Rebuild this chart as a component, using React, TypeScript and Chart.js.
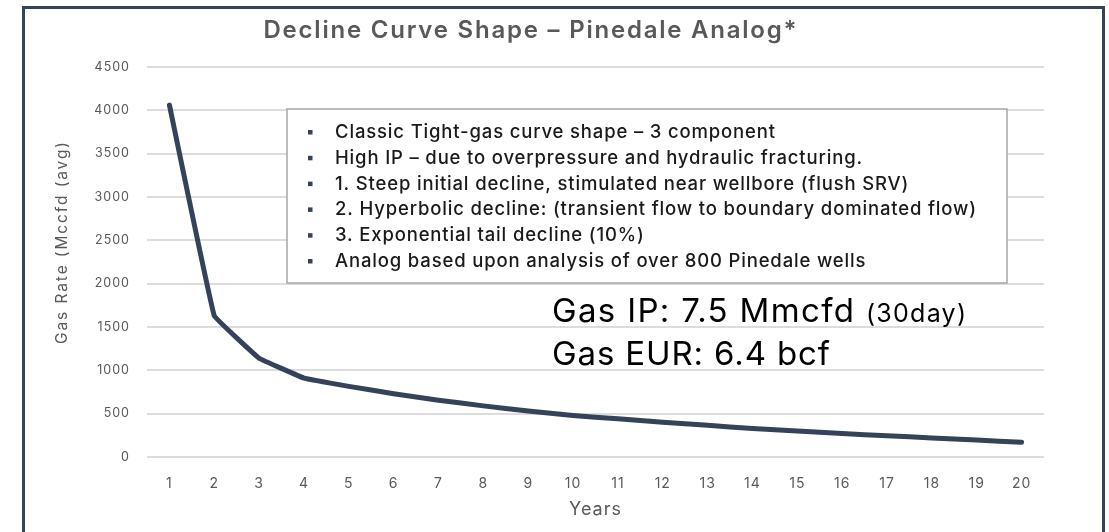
import React, { useEffect, useRef } from "react";
import { Chart, registerables } from "chart.js";

Chart.register(...registerables);

const YEARS = ["1", "2", "3", "4", "5", "6", "7", "8", "9", "10", "11", "12", "13", "14", "15", "16", "17", "18", "19", "20"];
const GAS_RATE = [4060, 1630, 1140, 910, 815, 730, 655, 590, 530, 480, 440, 400, 365, 330, 300, 270, 245, 220, 195, 170];
const Y_MIN = 0;
const Y_MAX = 4500;
const Y_STEP = 500;

const TITLE = "Decline Curve Shape – Pinedale Analog*";
const Y_TITLE = "Gas Rate (Mccfd (avg)";
const X_TITLE = "Years";
const BULLETS = [
  "Classic Tight-gas curve shape – 3 component",
  "High IP – due to overpressure and hydraulic fracturing.",
  "1. Steep initial decline, stimulated near wellbore (flush SRV)",
  "2. Hyperbolic decline: (transient flow to boundary dominated flow)",
  "3. Exponential tail decline (10%)",
  "Analog based upon analysis of over 800 Pinedale wells",
];
const IP_MAIN = "Gas IP: 7.5 Mmcfd";
const IP_NOTE = "(30day)";
const EUR_TEXT = "Gas EUR: 6.4 bcf";

const NAVY = "#34435A";
const GREY_TEXT = "#595959";
const FONT = "Inter, 'Liberation Sans', Arial, sans-serif";

function drawFit(ctx: CanvasRenderingContext2D, text: string, x: number, y: number, font: string, width: number, center = false) {
  ctx.font = font;
  (ctx as any).letterSpacing = "0px";
  const w = ctx.measureText(text).width;
  const ls = (width - w) / Math.max(1, text.length - 1);
  (ctx as any).letterSpacing = ls + "px";
  ctx.textAlign = "left";
  ctx.fillText(text, center ? x - width / 2 : x, y);
}

const overlayPlugin = {
  id: "overlay",
  beforeDraw(chart: any) {
    (chart.ctx as any).letterSpacing = "1px";
  },
  beforeDatasetsDraw(chart: any) {
    const ctx = chart.ctx as CanvasRenderingContext2D;
    ctx.save();
    ctx.fillStyle = "#ffffff";
    ctx.fillRect(287, 109, 720, 174);
    ctx.strokeStyle = "#a6a6a6";
    ctx.lineWidth = 1.5;
    ctx.strokeRect(287, 109, 720, 174);
    ctx.restore();
  },
  afterDraw(chart: any) {
    const ctx = chart.ctx as CanvasRenderingContext2D;
    ctx.save();
    ctx.textBaseline = "alphabetic";

    // Title
    ctx.fillStyle = GREY_TEXT;
    drawFit(ctx, TITLE, 530, 38, `600 24px ${FONT}`, 533, true);

    // Y axis title
    ctx.save();
    ctx.translate(67, 243);
    ctx.rotate(-Math.PI / 2);
    drawFit(ctx, Y_TITLE, 0, 0, `15.5px ${FONT}`, 202, true);
    ctx.restore();

    // Bullets
    const bFont = `500 18.5px ${FONT}`;
    ctx.font = bFont;
    (ctx as any).letterSpacing = "0px";
    const w0 = ctx.measureText(BULLETS[0]).width;
    const ls = (440 - w0) / (BULLETS[0].length - 1);
    BULLETS.forEach((t, i) => {
      const base = 138 + i * 25.8;
      ctx.fillStyle = NAVY;
      ctx.fillRect(308, base - 8, 4.5, 4.5);
      ctx.fillStyle = "#1a1a1a";
      ctx.font = bFont;
      (ctx as any).letterSpacing = ls + "px";
      ctx.textAlign = "left";
      ctx.fillText(t, 335, base);
    });

    // Gas IP / EUR
    ctx.fillStyle = "#000000";
    drawFit(ctx, IP_MAIN, 552, 322, `33px ${FONT}`, 302);
    drawFit(ctx, IP_NOTE, 866, 322, `25px ${FONT}`, 100);
    drawFit(ctx, EUR_TEXT, 552, 365, `33px ${FONT}`, 278);

    ctx.restore();
  },
};

export default function App() {
  const ref = useRef<HTMLCanvasElement | null>(null);

  useEffect(() => {
    if (!ref.current) return;
    const chart = new Chart(ref.current, {
      type: "line",
      data: {
        labels: YEARS,
        datasets: [
          {
            data: GAS_RATE,
            borderColor: NAVY,
            borderWidth: 5,
            pointRadius: 0,
            pointHoverRadius: 0,
            tension: 0.05,
            borderCapStyle: "round",
            borderJoinStyle: "round",
            fill: false,
          },
        ],
      },
      options: {
        animation: false,
        responsive: false,
        devicePixelRatio: 1,
        events: [],
        layout: { padding: { top: 67, right: 65, bottom: 0, left: 0 } },
        plugins: {
          legend: { display: false },
          title: { display: false },
          tooltip: { enabled: false },
        },
        scales: {
          x: {
            type: "category",
            offset: true,
            grid: { display: false, drawTicks: false },
            border: { display: false },
            ticks: { color: GREY_TEXT, font: { family: FONT, size: 14 }, padding: 18, maxRotation: 0, autoSkip: false },
            title: { display: true, text: X_TITLE, color: GREY_TEXT, font: { family: FONT, size: 18 }, padding: { top: 0, bottom: 12 } },
            afterFit: (s: any) => {
              s.height = 75;
            },
          },
          y: {
            min: Y_MIN,
            max: Y_MAX,
            ticks: {
              stepSize: Y_STEP,
              color: GREY_TEXT,
              font: { family: FONT, size: 12.5 },
              padding: 17,
              callback: (v: any) => String(v),
            },
            grid: { color: "#dcdcdc", lineWidth: 2, drawTicks: false },
            border: { display: false },
            afterFit: (s: any) => {
              s.width = 147;
            },
          },
        },
      },
      plugins: [overlayPlugin],
    });
    return () => chart.destroy();
  }, []);

  return (
    <div style={{ position: "fixed", left: 0, top: 0, width: 1109, height: 532, background: "#fff", overflow: "hidden" }}>
      <canvas ref={ref} width={1109} height={532} style={{ position: "absolute", left: 0, top: 0, width: 1109, height: 532 }} />
      <div
        style={{
          position: "absolute",
          left: 22,
          top: 6,
          width: 1083,
          height: 600,
          border: `3px solid ${NAVY}`,
          boxSizing: "border-box",
          pointerEvents: "none",
        }}
      />
    </div>
  );
}
